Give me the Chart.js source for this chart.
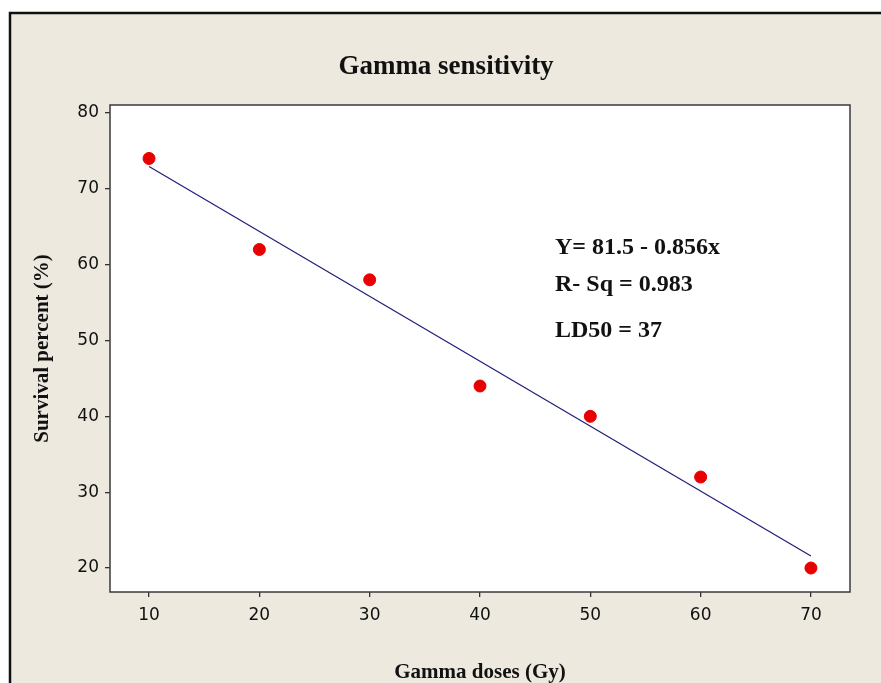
<!DOCTYPE html>
<html>
<head>
<meta charset="utf-8">
<script src="https://cdn.jsdelivr.net/npm/chart.js@4.4.1/dist/chart.umd.min.js"></script>
<style>
  html, body { margin: 0; padding: 0; background: #fff; }
  canvas { display: block; }
</style>
</head>
<body>
<canvas id="chart1" width="881" height="683"></canvas>
<script>
// datos
const doses = [10, 20, 30, 40, 50, 60, 70];
const survival = [74, 62, 58, 44, 40, 32, 20];
const xTicks = [10, 20, 30, 40, 50, 60, 70];
const yTicks = [20, 30, 40, 50, 60, 70, 80];
// recta de regresion Y = 81.5 - 0.856x
const fitIntercept = 81.5;
const fitSlope = -0.856;
const fitX = [10, 70];
const chartTitle = 'Gamma sensitivity';
const notes = ['Y= 81.5 - 0.856x', 'R- Sq = 0.983', 'LD50 = 37'];

const serif = '"Liberation Serif", "Times New Roman", serif';

// fondo beige, marco y textos
const decor = {
    id: 'decor',
    beforeDraw(chart) {
        const c = chart.ctx;
        const a = chart.chartArea;
        c.save();
        c.fillStyle = '#ffffff';
        c.fillRect(0, 0, chart.width, chart.height);
        c.fillStyle = '#ede9df';
        c.fillRect(10, 13, chart.width - 10, chart.height - 13);
        c.strokeStyle = '#111';
        c.lineWidth = 2.5;
        c.beginPath();
        c.moveTo(10, chart.height);
        c.lineTo(10, 13);
        c.lineTo(chart.width, 13);
        c.stroke();
        c.fillStyle = '#ffffff';
        c.fillRect(a.left, a.top, a.right - a.left, a.bottom - a.top);
        c.restore();
    },
    afterDraw(chart) {
        const c = chart.ctx;
        const a = chart.chartArea;
        c.save();
        c.strokeStyle = '#3a3a3a';
        c.lineWidth = 1.5;
        c.strokeRect(a.left, a.top, a.right - a.left, a.bottom - a.top);
        c.fillStyle = '#111';
        c.textAlign = 'center';
        c.textBaseline = 'alphabetic';
        c.font = 'bold 27px ' + serif;
        c.fillText(chartTitle, 446, 74);
        c.textAlign = 'left';
        c.font = 'bold 24px ' + serif;
        c.fillText(notes[0], 555, 254);
        c.fillText(notes[1], 555, 291);
        c.fillText(notes[2], 555, 337);
        c.restore();
    }
};

const ctx1 = document.getElementById('chart1').getContext('2d');

const chart1 = new Chart(ctx1, {
    type: 'scatter',
    data: {
        datasets: [{
            label: 'Survival',
            data: doses.map((d, i) => ({ x: d, y: survival[i] })),
            backgroundColor: '#e80000',
            borderColor: '#e80000',
            pointRadius: 6,
            pointHoverRadius: 6,
            order: 0
        }, {
            label: 'Fit',
            data: fitX.map(x => ({ x: x, y: fitIntercept + fitSlope * x })),
            showLine: true,
            borderColor: '#1e1e78',
            borderWidth: 1.2,
            pointRadius: 0,
            order: 1
        }]
    },
    options: {
        responsive: false,
        animation: false,
        layout: {
            padding: { left: 0, right: 31, top: 105, bottom: 0 }
        },
        plugins: {
            legend: { display: false },
            tooltip: { enabled: false }
        },
        scales: {
            x: {
                min: 6.46,
                max: 73.54,
                afterBuildTicks: scale => { scale.ticks = xTicks.map(v => ({ value: v })); },
                afterFit: scale => { scale.height = 91; },
                grid: { drawOnChartArea: false, drawTicks: true, tickLength: 5, color: '#333', lineWidth: 1.3 },
                border: { display: false },
                ticks: {
                    padding: 8,
                    color: '#111',
                    font: { family: '"DejaVu Sans", sans-serif', size: 17 }
                },
                title: {
                    display: true,
                    text: 'Gamma doses (Gy)',
                    color: '#111',
                    padding: { top: 0, bottom: 0 },
                    font: { family: serif, size: 21, weight: 'bold', lineHeight: 1 }
                }
            },
            y: {
                min: 16.84,
                max: 81.05,
                afterBuildTicks: scale => { scale.ticks = yTicks.map(v => ({ value: v })); },
                afterFit: scale => { scale.width = 110; },
                grid: { drawOnChartArea: false, drawTicks: true, tickLength: 5, color: '#333', lineWidth: 1.3 },
                border: { display: false },
                ticks: {
                    padding: 6,
                    color: '#111',
                    font: { family: '"DejaVu Sans", sans-serif', size: 17 }
                },
                title: {
                    display: true,
                    text: 'Survival percent (%)',
                    color: '#111',
                    padding: { top: 30, bottom: 0 },
                    font: { family: serif, size: 21, weight: 'bold', lineHeight: 1.2 }
                }
            }
        }
    },
    plugins: [decor]
});
</script>
</body>
</html>
